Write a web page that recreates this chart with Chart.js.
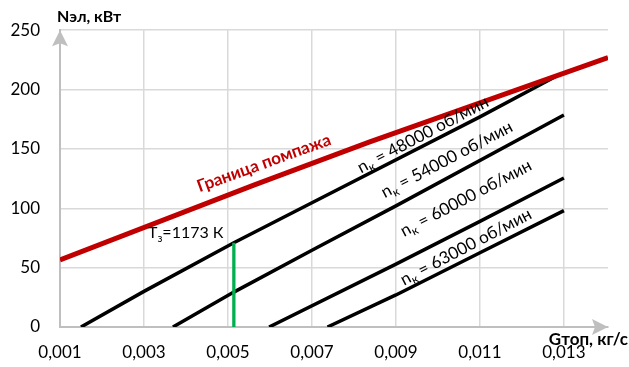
<!DOCTYPE html>
<html>
<head>
<meta charset="utf-8">
<script src="https://cdn.jsdelivr.net/npm/chart.js@4"></script>
<style>
  html, body { margin: 0; padding: 0; background: #ffffff; }
  #wrap { width: 629px; height: 367px; }
</style>
</head>
<body>
<div id="wrap"><canvas id="c" width="629" height="367"></canvas></div>
<script>
// Axis ticks
const gTicks = [0.001, 0.003, 0.005, 0.007, 0.009, 0.011, 0.013];
const nTicks = [0, 50, 100, 150, 200, 250];

// Surge boundary (Граница помпажа)
const surgeG = [0.001, 0.00563, 0.00836, 0.01405];
const surgeN = [56.4, 119.7, 155.8, 227];

// Constant compressor speed lines, N_el vs fuel flow
const n48G = [0.0015, 0.003, 0.00514, 0.007, 0.011, 0.01286];
const n48N = [0, 30, 71, 104.7, 177, 212];
const n54G = [0.00369, 0.00514, 0.007, 0.009, 0.013];
const n54N = [0, 29.4, 64.7, 102, 178.6];
const n60G = [0.00598, 0.009, 0.011, 0.013];
const n60N = [0, 53, 89, 125.5];
const n63G = [0.00737, 0.009, 0.011, 0.013];
const n63N = [0, 27, 62.5, 98];

// Turbine inlet temperature limit T3 = 1173 K
const t3G = [0.00514, 0.00514];
const t3N = [0, 71];

const speeds = ['48000', '54000', '60000', '63000'];

const pts = (xs, ys) => xs.map((x, i) => ({ x: x, y: ys[i] }));

const FONT = 'Lato, "Open Sans", sans-serif';

function lineSet(data, color, width) {
  return {
    data: data,
    borderColor: color,
    borderWidth: width,
    pointRadius: 0,
    fill: false,
    tension: 0,
    borderCapStyle: 'butt'
  };
}

// Text anchors given in data units (x = G, y = N), angle in degrees
const labelSpots = [
  { g: 0.009643, n: 162,   angle: -27.7 },
  { g: 0.010214, n: 141,   angle: -27.7 },
  { g: 0.010667, n: 108.5, angle: -27.7 },
  { g: 0.010667, n: 67.5,  angle: -27.7 }
];

function drawRich(ctx, parts, x, y, angle, size, weight, color, align) {
  ctx.save();
  ctx.translate(x, y);
  ctx.rotate(angle * Math.PI / 180);
  ctx.fillStyle = color;
  ctx.textBaseline = 'middle';
  ctx.textAlign = 'left';
  const subSize = Math.round(size * 0.7);
  let total = 0;
  parts.forEach(p => {
    ctx.font = weight + ' ' + (p.sub ? subSize : size) + 'px ' + FONT;
    p.w = ctx.measureText(p.t).width;
    total += p.w;
  });
  let cx = align === 'left' ? 0 : -total / 2;
  parts.forEach(p => {
    ctx.font = weight + ' ' + (p.sub ? subSize : size) + 'px ' + FONT;
    ctx.fillText(p.t, cx, p.sub ? size * 0.3 : 0);
    cx += p.w;
  });
  ctx.restore();
}

function arrow(ctx, tipX, tipY, dir) {
  // dir: 'up' or 'right'
  ctx.save();
  ctx.fillStyle = '#bfbfbf';
  ctx.beginPath();
  if (dir === 'up') {
    ctx.moveTo(tipX, tipY);
    ctx.lineTo(tipX + 8, tipY + 16);
    ctx.lineTo(tipX, tipY + 13);
    ctx.lineTo(tipX - 8, tipY + 16);
  } else {
    ctx.moveTo(tipX, tipY);
    ctx.lineTo(tipX - 16, tipY - 8);
    ctx.lineTo(tipX - 13, tipY);
    ctx.lineTo(tipX - 16, tipY + 8);
  }
  ctx.closePath();
  ctx.fill();
  ctx.restore();
}

const annotations = {
  id: 'annotations',
  afterDatasetsDraw(chart) {
    const ctx = chart.ctx;
    const xs = chart.scales.x, ys = chart.scales.y;
    const area = chart.chartArea;

    arrow(ctx, area.left, area.top, 'up');
    arrow(ctx, area.right, area.bottom, 'right');

    // Axis titles
    ctx.save();
    ctx.fillStyle = '#000';
    ctx.textBaseline = 'middle';
    ctx.font = 'bold 16px ' + FONT;
    ctx.textAlign = 'left';
    ctx.fillText('Nэл, кВт', 57, 17);
    ctx.font = 'bold 17px ' + FONT;
    ctx.textAlign = 'right';
    ctx.fillText('Gтоп, кг/с', 628, 340);
    ctx.restore();

    // Surge boundary caption
    drawRich(ctx, [{ t: 'Граница помпажа' }],
      xs.getPixelForValue(0.005857), ys.getPixelForValue(138.1),
      -19.9, 17, 'bold', '#c00000', 'center');

    // Speed captions
    speeds.forEach((s, i) => {
      const p = labelSpots[i];
      drawRich(ctx, [{ t: 'n' }, { t: 'к', sub: true }, { t: ' = ' + s + ' об/мин' }],
        xs.getPixelForValue(p.g), ys.getPixelForValue(p.n),
        p.angle, 17, 'normal', '#000', 'center');
    });

    // Temperature caption
    drawRich(ctx, [{ t: 'T' }, { t: 'з', sub: true }, { t: '=1173 К' }],
      xs.getPixelForValue(0.003095), ys.getPixelForValue(79),
      0, 16, 'normal', '#000', 'left');
  }
};

new Chart(document.getElementById('c'), {
  type: 'line',
  data: {
    datasets: [
      lineSet(pts(t3G, t3N), '#00b050', 3.3),
      lineSet(pts(surgeG, surgeN), '#c00000', 5),
      lineSet(pts(n48G, n48N), '#000000', 3.5),
      lineSet(pts(n54G, n54N), '#000000', 3.5),
      lineSet(pts(n60G, n60N), '#000000', 3.5),
      lineSet(pts(n63G, n63N), '#000000', 3.5)
    ]
  },
  options: {
    responsive: false,
    animation: false,
    devicePixelRatio: 1,
    layout: { padding: { left: 0, right: 21, top: 28, bottom: 0 } },
    plugins: { legend: { display: false }, tooltip: { enabled: false } },
    scales: {
      x: {
        type: 'linear',
        min: 0.001,
        max: 0.01405,
        afterBuildTicks: s => { s.ticks = gTicks.map(v => ({ value: v })); },
        afterFit: s => { s.height = 40; },
        ticks: {
          callback: v => v.toFixed(3).replace('.', ','),
          font: { family: FONT, size: 17 },
          color: '#000',
          padding: 15,
          maxRotation: 0,
          autoSkip: false
        },
        grid: { color: '#d9d9d9', lineWidth: 1.5, drawTicks: false },
        border: { color: '#bfbfbf', width: 2 }
      },
      y: {
        min: 0,
        max: 250,
        afterBuildTicks: s => { s.ticks = nTicks.map(v => ({ value: v })); },
        afterFit: s => { s.width = 60; },
        ticks: {
          font: { family: FONT, size: 17 },
          color: '#000',
          padding: 20
        },
        grid: { color: '#d9d9d9', lineWidth: 1.5, drawTicks: false },
        border: { color: '#bfbfbf', width: 2 }
      }
    }
  },
  plugins: [annotations]
});
</script>
</body>
</html>
